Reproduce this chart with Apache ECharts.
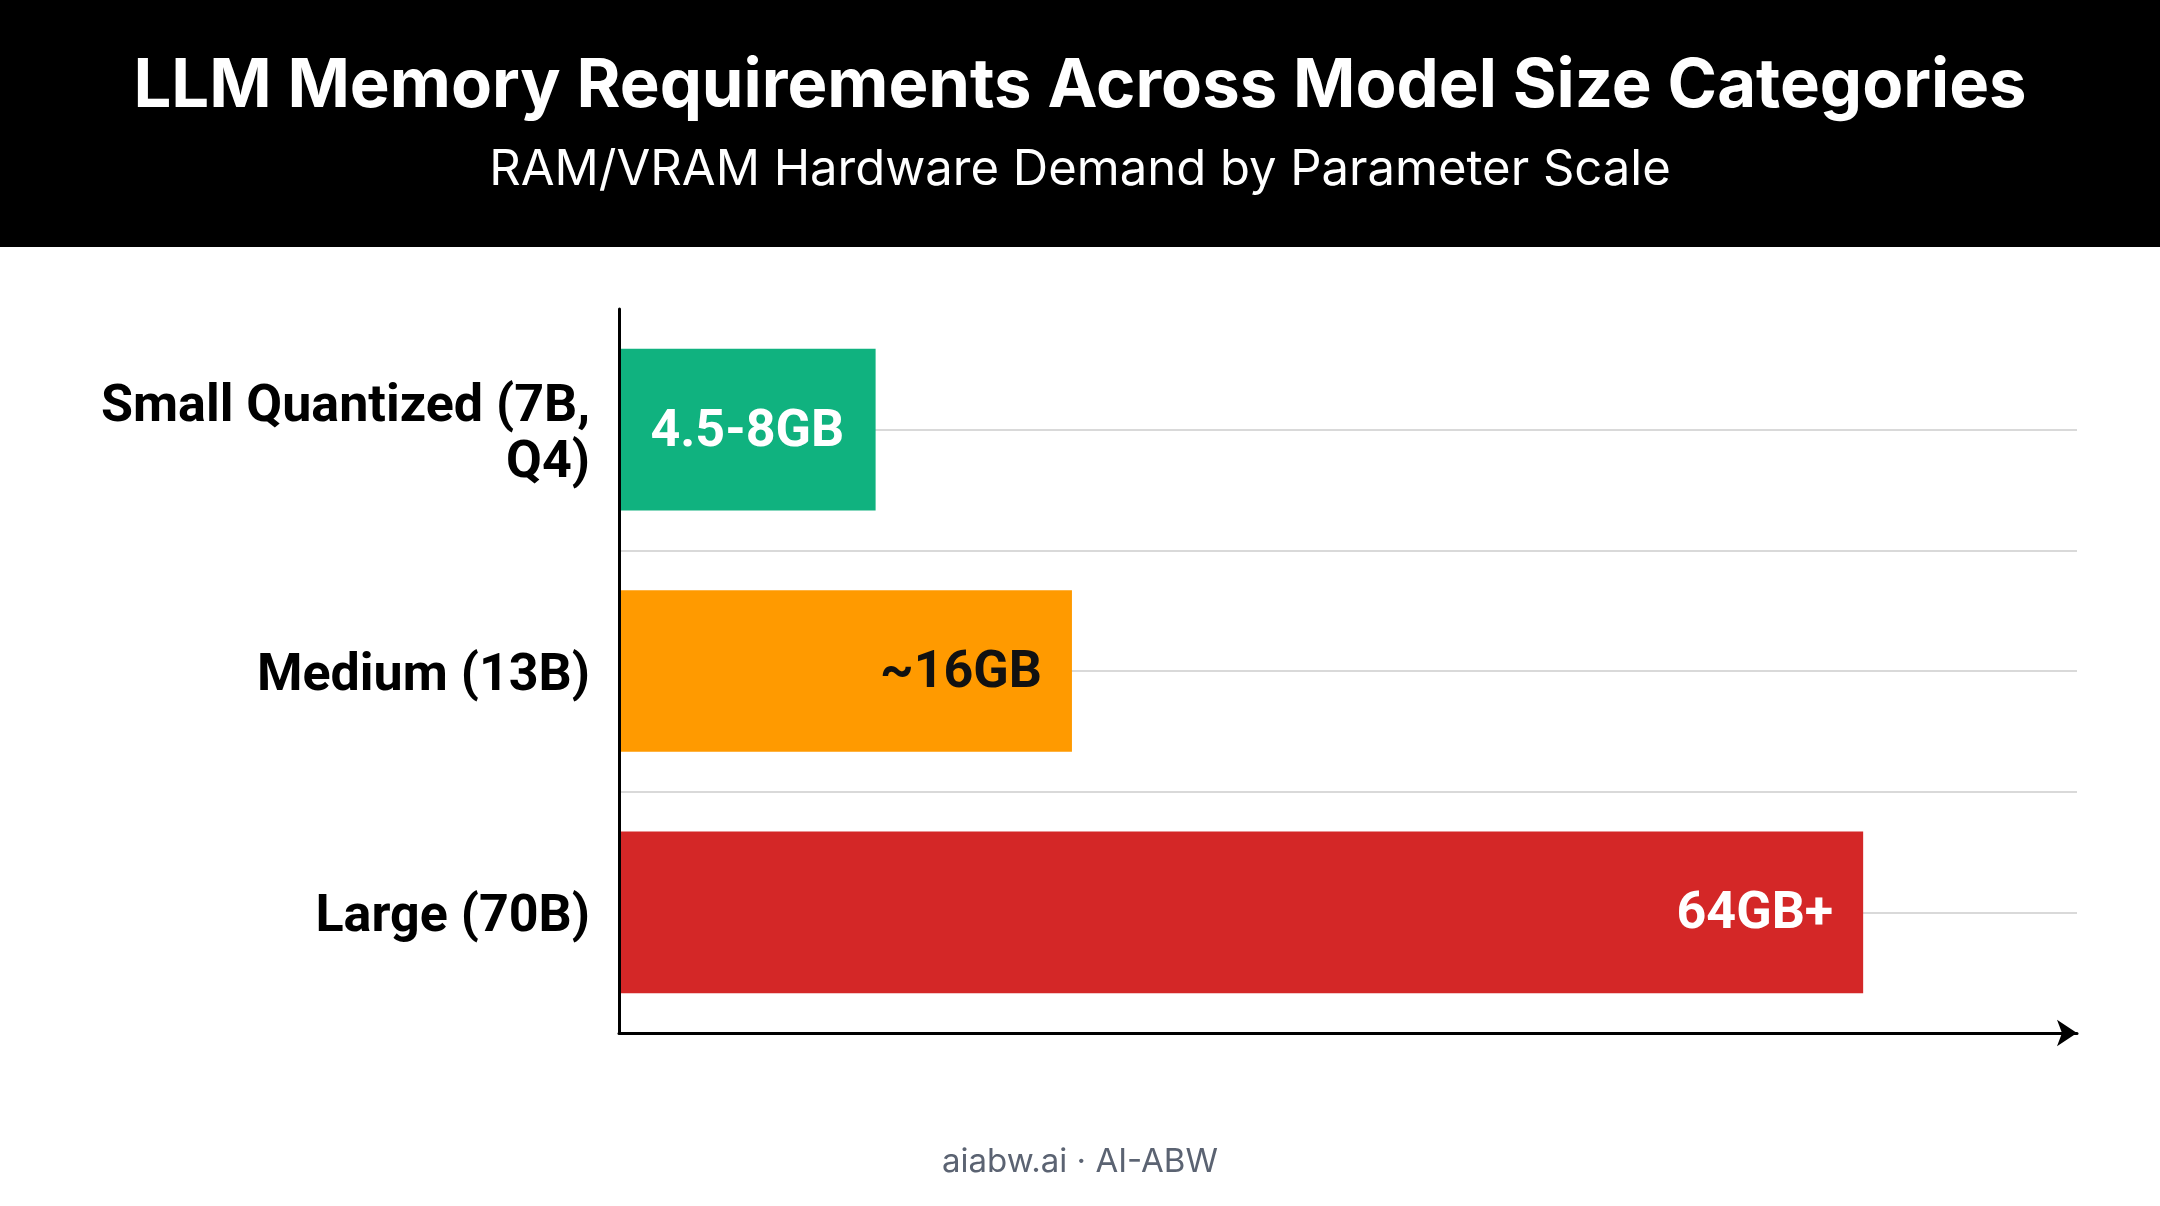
<!DOCTYPE html>
<html>
<head>
<meta charset="utf-8">
<title>LLM Memory Requirements</title>
<script src="https://cdn.jsdelivr.net/npm/echarts@6/dist/echarts.min.js"></script>
<style>
  html, body { margin: 0; padding: 0; background: #fff; }
  #chart { width: 2160px; height: 1206px; }
</style>
</head>
<body>
<div id="chart"></div>
<script>
// model size categories, top to bottom
const categories = ["Small Quantized (7B, Q4)", "Medium (13B)", "Large (70B)"];
// bar lengths as drawn (axis max 75)
const memoryValues = [13.2, 23.3, 64];
const memoryLabels = ["4.5-8GB", "~16GB", "64GB+"];

const barColors = ["#10b27f", "#ff9a00", "#d42727"];
const labelColors = ["#ffffff", "#111111", "#ffffff"];
const labelPos = ["inside", "insideRight", "insideRight"];

const FONT = "Inter, 'Noto Sans', sans-serif";
const LABEL_FONT = "Roboto, Inter, sans-serif";

const myChart = echarts.init(document.getElementById("chart"));

const catLabelStyle = {
  color: "#000",
  fontSize: 52,
  fontWeight: "bold",
  fontFamily: LABEL_FONT,
  lineHeight: 56,
  align: "right"
};

const option = {
  backgroundColor: "#ffffff",
  animation: false,
  graphic: [
    { type: "rect", left: 0, top: 0, z: -1, shape: { width: 2160, height: 247 }, style: { fill: "#000000" } },
    {
      type: "text", left: "center", top: 1146,
      style: { text: "aiabw.ai · AI-ABW", fill: "#5b6372", fontSize: 33, fontFamily: FONT }
    }
  ],
  title: [
    {
      text: "LLM Memory Requirements Across Model Size Categories",
      left: "center", top: 48,
      textStyle: { color: "#fff", fontSize: 67, fontWeight: "bold", fontFamily: FONT }
    },
    {
      text: "RAM/VRAM Hardware Demand by Parameter Scale",
      left: "center", top: 141,
      textStyle: { color: "#fff", fontSize: 49, fontWeight: "normal", fontFamily: FONT }
    }
  ],
  grid: { left: 619, right: 83, top: 309, bottom: 173, containLabel: false },
  xAxis: {
    type: "value",
    min: 0,
    max: 75,
    axisLine: {
      show: true,
      lineStyle: { color: "#000", width: 3 },
      symbol: ["none", "arrow"],
      symbolSize: [20, 20]
    },
    axisTick: { show: false },
    axisLabel: { show: false },
    splitLine: { show: false }
  },
  yAxis: [
    {
      type: "category",
      data: categories,
      inverse: true,
      z: 5,
      axisLine: { show: true, lineStyle: { color: "#000", width: 3 } },
      axisTick: { show: false },
      splitLine: { show: false },
      axisLabel: Object.assign({
        margin: 29,
        // wrap the long label after the comma, nudge down a little
        formatter: function (v) {
          return "{s|}\n" + v.split(", ").map(function (s, i, a) {
            return "{c|" + s + (i < a.length - 1 ? "," : "") + "}";
          }).join("\n");
        },
        rich: {
          c: catLabelStyle,
          s: { fontSize: 10, lineHeight: 12 }
        }
      }, catLabelStyle)
    },
    {
      // hidden helper axis: gives lines at each category centre and boundary
      type: "value",
      min: 0,
      max: 6,
      interval: 1,
      position: "right",
      axisLine: { show: false },
      axisTick: { show: false },
      axisLabel: { show: false },
      splitLine: {
        show: true,
        showMinLine: false,
        showMaxLine: false,
        lineStyle: { color: "#d9d9d9", width: 2 }
      }
    }
  ],
  series: [
    {
      type: "bar",
      yAxisIndex: 0,
      barCategoryGap: "33%",
      data: memoryValues.map(function (v, i) {
        return {
          value: v,
          itemStyle: { color: barColors[i] },
          label: {
            show: true,
            position: labelPos[i],
            distance: 30,
            offset: [0, 3],
            formatter: memoryLabels[i],
            color: labelColors[i],
            fontSize: 52,
            fontWeight: "bold",
            fontFamily: LABEL_FONT
          }
        };
      })
    }
  ]
};

myChart.setOption(option);
window.addEventListener("resize", function () { myChart.resize(); });
</script>
</body>
</html>
